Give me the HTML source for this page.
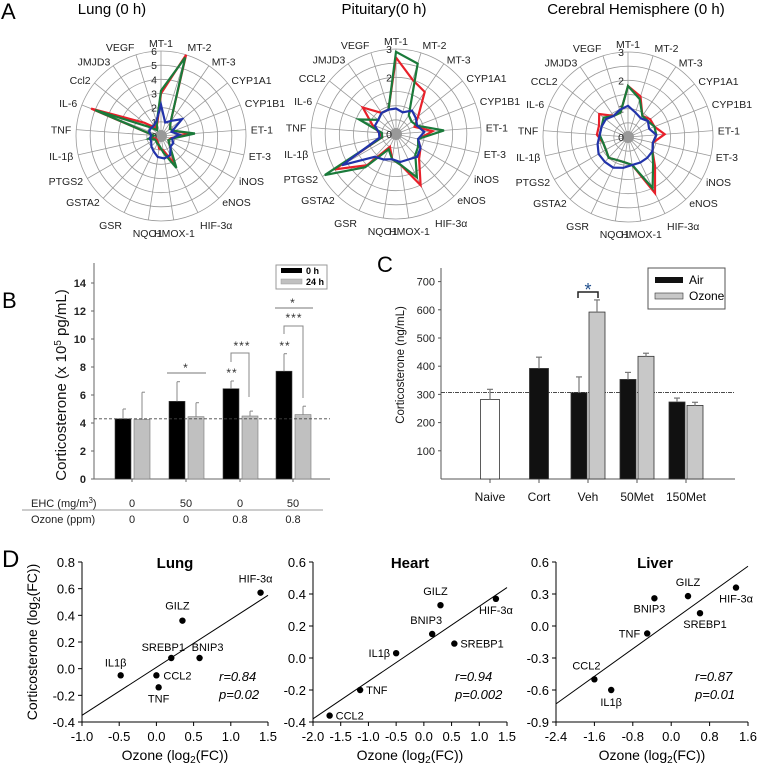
<!DOCTYPE html>
<html><head><meta charset="utf-8">
<style>
html,body{margin:0;padding:0;background:#fff;}
svg{display:block;font-family:"Liberation Sans",sans-serif;}
</style></head>
<body>
<svg id="fig" width="758" height="767" viewBox="0 0 758 767" xmlns="http://www.w3.org/2000/svg">
<text x="1" y="19" font-size="22">A</text>
<text x="2" y="308" font-size="22">B</text>
<text x="377" y="272" font-size="22">C</text>
<text x="2" y="567" font-size="24">D</text>
<g id="gA"></g><g id="gB"></g><g id="gC"></g><g id="gD"></g>
</svg>
<script>
// ---------- Panel A data ----------
const radarGenesLung = ["MT-1","MT-2","MT-3","CYP1A1","CYP1B1","ET-1","ET-3","iNOS","eNOS","HIF-3α","HMOX-1","NQO1","GSR","GSTA2","PTGS2","IL-1β","TNF","IL-6","Ccl2","JMJD3","VEGF"];
const radarGenes = ["MT-1","MT-2","MT-3","CYP1A1","CYP1B1","ET-1","ET-3","iNOS","eNOS","HIF-3α","HMOX-1","NQO1","GSR","GSTA2","PTGS2","IL-1β","TNF","IL-6","CCL2","JMJD3","VEGF"];
const lungRed   = [3.0,6.0,1.2,0.8,1.0,2.0,0.7,0.6,0.9,2.2,1.0,0.9,0.5,0.4,0.4,0.6,0.5,5.3,1.5,0.7,0.9];
const lungGreen = [3.2,5.8,1.2,0.8,1.0,2.4,0.8,0.6,0.9,2.5,1.2,0.7,0.6,0.5,0.5,0.9,0.5,5.0,1.0,0.5,1.0];
const lungBlue  = [2.2,1.0,1.3,1.9,0.8,1.3,0.8,1.0,1.0,1.5,1.6,1.5,1.2,1.0,0.8,0.8,0.7,0.9,0.9,0.9,1.1];
const pitRed   = [2.7,2.0,1.8,1.0,0.7,1.3,0.8,1.0,1.2,2.0,1.1,0.9,0.5,1.5,2.5,0.5,0.6,0.9,1.5,0.9,0.9];
const pitGreen = [2.9,2.6,0.8,0.7,0.8,1.7,0.8,0.9,1.0,1.7,1.1,0.9,0.6,1.6,2.9,0.5,0.5,1.4,0.8,0.9,0.9];
const pitBlue  = [0.9,0.8,1.0,0.9,0.8,1.0,0.8,1.0,1.1,1.0,1.0,0.9,1.0,1.1,2.2,0.6,0.6,0.8,0.8,0.9,0.9];
const cerRed   = [1.8,1.5,0.9,1.0,1.0,1.3,0.9,1.0,1.4,2.2,1.0,0.9,0.9,1.0,0.9,0.9,1.1,1.1,1.3,0.9,0.9];
const cerGreen = [1.8,1.4,0.9,0.9,1.0,1.0,0.9,1.0,1.3,2.0,1.0,0.9,0.9,1.0,0.9,0.9,1.0,1.0,1.1,0.9,0.9];
const cerBlue  = [1.1,0.9,0.8,0.9,0.8,1.0,0.9,1.0,1.0,1.0,1.0,1.1,1.2,1.2,1.2,1.1,1.0,1.0,1.0,0.9,1.0];
const lungRingTicks = ["0","1","2","3","4","5","6"];
const brainRingTicks = ["0","1","2","3"];

// ---------- Panel B data ----------
const bGroups = ["g1","g2","g3","g4"];
const bEHC = ["0","50","0","50"];
const bOzone = ["0","0","0.8","0.8"];
const b0h = [4.3,5.55,6.45,7.7];
const b0hErr = [5.0,6.95,7.0,8.95];
const b24h = [4.25,4.45,4.5,4.6];
const b24hErr = [6.2,5.45,4.85,5.2];
const bTicks = [0,2,4,6,8,10,12,14];
const bBaseline = 4.3;

// ---------- Panel C data ----------
const cCats = ["Naive","Cort","Veh","50Met","150Met"];
const cAir = [282,392,306,353,273];
const cAirErr = [318,432,362,378,287];
const cOzone = [null,null,592,435,261];
const cOzoneErr = [null,null,635,446,272];
const cTicks = [100,200,300,400,500,600,700];
const cBaseline = 307;

// ---------- Panel D data ----------
const lungGenes = ["HIF-3α","GILZ","SREBP1","BNIP3","IL1β","CCL2","TNF"];
const lungX = [1.4,0.35,0.2,0.58,-0.48,0.0,0.03];
const lungY = [0.57,0.36,0.08,0.08,-0.05,-0.05,-0.14];
const heartGenes = ["CCL2","TNF","IL1β","BNIP3","SREBP1","GILZ","HIF-3α"];
const heartX = [-1.7,-1.15,-0.5,0.15,0.55,0.3,1.3];
const heartY = [-0.36,-0.2,0.03,0.15,0.09,0.33,0.37];
const liverGenes = ["CCL2","IL1β","TNF","BNIP3","GILZ","SREBP1","HIF-3α"];
const liverX = [-1.6,-1.25,-0.5,-0.35,0.35,0.6,1.35];
const liverY = [-0.5,-0.6,-0.07,0.26,0.28,0.12,0.36];
const lungXTicks = [-1.0,-0.5,0.0,0.5,1.0,1.5];
const lungYTicks = [-0.4,-0.2,0.0,0.2,0.4,0.6,0.8];
const heartXTicks = [-2.0,-1.5,-1.0,-0.5,0.0,0.5,1.0,1.5];
const heartYTicks = [-0.4,-0.2,0.0,0.2,0.4,0.6];
const liverXTicks = [-2.4,-1.6,-0.8,0.0,0.8,1.6];
const liverYTicks = [-0.9,-0.6,-0.3,0.0,0.3,0.6];
const lungFit = [[-1.0,-0.35],[1.5,0.55]];
const heartFit = [[-2.0,-0.38],[1.5,0.44]];
const liverFit = [[-2.4,-0.73],[1.6,0.56]];

const NS="http://www.w3.org/2000/svg";
function mk(parent, tag, attrs, txt){
  const e=document.createElementNS(NS,tag);
  for(const k in attrs) e.setAttribute(k,attrs[k]);
  if(txt!==undefined) e.textContent=txt;
  parent.appendChild(e); return e;
}

// ===== Panel A radars =====
const gA=document.getElementById('gA');
function radar(cx,cy,R,maxV,labels,ticks,series,title,tx,name){
  const g=mk(gA,'g',{});
  
  
  const t=mk(g,'text',{x:tx,y:14,'font-size':15,'text-anchor':'middle'},title);
  
  
  const n=labels.length;
  for(let k=1;k<=6;k++){
    const c=mk(g,'circle',{cx:cx,cy:cy,r:R*k/6,fill:'none',stroke:'#999','stroke-width':0.8});
    
    
  }
  for(let i=0;i<n;i++){
    const a=2*Math.PI*i/n, s=Math.sin(a), co=-Math.cos(a);
    const sp=mk(g,'line',{x1:cx,y1:cy,x2:cx+R*s,y2:cy+R*co,stroke:'#999','stroke-width':0.8});
    
    
    const lr=R+5;
    const anchor = s>0.25?'start':(s<-0.25?'end':'middle');
    const ly = cy+lr*co + 4 + (co<-0.9?-3:(co>0.9?8:0));
    const lb=mk(g,'text',{x:cx+lr*s,y:ly,'font-size':10.5,'text-anchor':anchor,fill:'#222'},labels[i]);
    
    
  }
  const cd=mk(g,'circle',{cx:cx,cy:cy,r:6,fill:'#999'});
  
  
  ticks.forEach((tk)=>{
    const v=+tk;
    const tt=mk(g,'text',{x:cx-4,y:cy-R*v/maxV+4,'font-size':10.5,'text-anchor':'end',fill:'#222'},tk);
    
    
  });
  series.forEach(([vals,col])=>{
    const pts=vals.map((v,i)=>{const a=2*Math.PI*i/n;const r=R*v/maxV;return (cx+r*Math.sin(a)).toFixed(1)+','+(cy-r*Math.cos(a)).toFixed(1);}).join(' ');
    const p=mk(g,'polygon',{points:pts,fill:'none',stroke:col,'stroke-width':2.2,'stroke-linejoin':'miter'});
    
    
  });
}
radar(161,136,85,6,radarGenesLung,lungRingTicks,[[lungRed,'#e8202a'],[lungGreen,'#1a7a3a'],[lungBlue,'#2233aa']],'Lung (0 h)',112,'radar-lung');
radar(396,134,85,3,radarGenes,brainRingTicks,[[pitRed,'#e8202a'],[pitGreen,'#1a7a3a'],[pitBlue,'#2233aa']],'Pituitary(0 h)',384,'radar-pituitary');
radar(628,137,85,3,radarGenes,brainRingTicks,[[cerRed,'#e8202a'],[cerGreen,'#1a7a3a'],[cerBlue,'#2233aa']],'Cerebral Hemisphere (0 h)',636,'radar-cerebral');

// ===== Panel B =====
const gB=document.getElementById('gB');
const bx0=94,bx1=330,by0=479,bpx=14;
const bY=v=>by0-v*bpx;
const bCenters=[132,186,240,293];
mk(gB,'line',{x1:bx0,y1:263,x2:bx0,y2:by0,stroke:'#666','stroke-width':1});
mk(gB,'line',{x1:bx0,y1:by0,x2:bx1,y2:by0,stroke:'#666','stroke-width':1});
bTicks.forEach(t=>{
  mk(gB,'line',{x1:bx0-3,y1:bY(t),x2:bx0,y2:bY(t),stroke:'#666'});
  const e=mk(gB,'text',{x:bx0-8,y:bY(t)+4,'font-size':11,'text-anchor':'end','font-weight':'bold',fill:'#222'},t);
  
  
});
bGroups.forEach((gname,i)=>{
  const c=bCenters[i];
  mk(gB,'line',{x1:c,y1:by0,x2:c,y2:by0+3,stroke:'#666'});
  const b1=mk(gB,'rect',{x:c-17,y:bY(b0h[i]),width:16,height:by0-bY(b0h[i]),fill:'#000',stroke:'#444','stroke-width':0.6});
  
  
  mk(gB,'line',{x1:c-9,y1:bY(b0h[i]),x2:c-9,y2:bY(b0hErr[i]),stroke:'#888','stroke-width':1});
  mk(gB,'line',{x1:c-9,y1:bY(b0hErr[i]),x2:c-6,y2:bY(b0hErr[i]),stroke:'#888','stroke-width':1});
  const b2=mk(gB,'rect',{x:c+2,y:bY(b24h[i]),width:16,height:by0-bY(b24h[i]),fill:'#c0c0c0',stroke:'#777','stroke-width':0.6});
  
  
  mk(gB,'line',{x1:c+10,y1:bY(b24h[i]),x2:c+10,y2:bY(b24hErr[i]),stroke:'#888','stroke-width':1});
  mk(gB,'line',{x1:c+10,y1:bY(b24hErr[i]),x2:c+13,y2:bY(b24hErr[i]),stroke:'#888','stroke-width':1});
  const e1=mk(gB,'text',{x:c,y:507,'font-size':11,'text-anchor':'middle',fill:'#222'},bEHC[i]);
  
  
  const e2=mk(gB,'text',{x:c,y:523,'font-size':11,'text-anchor':'middle',fill:'#222'},bOzone[i]);
  
  
});
mk(gB,'line',{x1:bx0,y1:bY(bBaseline),x2:bx1,y2:bY(bBaseline),stroke:'#444','stroke-dasharray':'3,2','stroke-width':0.8});
mk(gB,'line',{x1:22,y1:510,x2:323,y2:510,stroke:'#999','stroke-width':1});
let t;
t=mk(gB,'text',{x:31,y:507,'font-size':11,fill:'#222'});t.innerHTML='EHC (mg/m<tspan dy="-4" font-size="8">3</tspan><tspan dy="4">)</tspan>';


t=mk(gB,'text',{x:31,y:523,'font-size':11,fill:'#222'},'Ozone (ppm)');


t=mk(gB,'text',{x:0,y:0,'font-size':15,'text-anchor':'middle',transform:'translate(66,385) rotate(-90)',fill:'#111'});
t.innerHTML='Corticosterone (x 10<tspan dy="-5" font-size="10">5</tspan><tspan dy="5"> pg/mL)</tspan>';


const sig=(x,y,s)=>{const e=mk(gB,'text',{x:x,y:y,'font-size':12,'text-anchor':'middle',fill:'#333','letter-spacing':'1'},s);};
mk(gB,'line',{x1:167,y1:373,x2:206,y2:373,stroke:'#777'});sig(186,372,'*');
sig(232,377,'**');
mk(gB,'polyline',{points:'231,362 231,353 249,353 249,397',fill:'none',stroke:'#888'});sig(242,350,'***');
sig(285,350,'**');
mk(gB,'polyline',{points:'284,334 284,326 303,326 303,398',fill:'none',stroke:'#888'});sig(294,322,'***');
mk(gB,'line',{x1:275,y1:308,x2:313,y2:308,stroke:'#777'});sig(293,307,'*');
const lgB=mk(gB,'g',{});


mk(lgB,'rect',{x:276,y:265,width:51,height:24,fill:'#fff',stroke:'#999'});
mk(lgB,'rect',{x:281,y:268,width:21,height:5,fill:'#000'});
mk(lgB,'rect',{x:281,y:279,width:21,height:5,fill:'#c0c0c0',stroke:'#999','stroke-width':0.5});
mk(lgB,'text',{x:306,y:274,'font-size':9,'font-weight':'bold'},'0 h');
mk(lgB,'text',{x:306,y:285,'font-size':9,'font-weight':'bold'},'24 h');

// ===== Panel C =====
const gC=document.getElementById('gC');
const cx0=441,cx1=735,cy0=479,cpx=0.282;
const cY=v=>cy0-v*cpx;
const cCenters=[490,539,588,637,686];
mk(gC,'line',{x1:cx0,y1:268,x2:cx0,y2:cy0,stroke:'#555'});
mk(gC,'line',{x1:cx0,y1:cy0,x2:cx1,y2:cy0,stroke:'#555'});
cTicks.forEach(v=>{
  mk(gC,'line',{x1:cx0-3,y1:cY(v),x2:cx0,y2:cY(v),stroke:'#555'});
  const e=mk(gC,'text',{x:cx0-6,y:cY(v)+4,'font-size':11,'text-anchor':'end',fill:'#222'},v);
  
  
});
mk(gC,'line',{x1:cx0,y1:cY(cBaseline),x2:cx1,y2:cY(cBaseline),stroke:'#333','stroke-dasharray':'4,1,1,1','stroke-width':0.8});
cCats.forEach((cat,i)=>{
  const c=cCenters[i];
  mk(gC,'line',{x1:c,y1:cy0,x2:c,y2:cy0+4,stroke:'#555'});
  const lab=mk(gC,'text',{x:c,y:501,'font-size':12,'text-anchor':'middle',fill:'#111'},cat);
  
  
  const single = cOzone[i]===null;
  const w=single?19:16;
  const ax= single? c-9.5 : c-17;
  const fillA = i===0?'#fff':'#111';
  const ba=mk(gC,'rect',{x:ax,y:cY(cAir[i]),width:w,height:cy0-cY(cAir[i]),fill:fillA,stroke:'#333','stroke-width':0.8});
  
  
  const ex=ax+w/2;
  mk(gC,'line',{x1:ex,y1:cY(cAir[i]),x2:ex,y2:cY(cAirErr[i]),stroke:'#777','stroke-width':1.2});
  mk(gC,'line',{x1:ex-3,y1:cY(cAirErr[i]),x2:ex+3,y2:cY(cAirErr[i]),stroke:'#777','stroke-width':1.2});
  if(!single){
    const bo=mk(gC,'rect',{x:c+1,y:cY(cOzone[i]),width:16,height:cy0-cY(cOzone[i]),fill:'#c8c8c8',stroke:'#333','stroke-width':0.8});
    
    
    mk(gC,'line',{x1:c+9,y1:cY(cOzone[i]),x2:c+9,y2:cY(cOzoneErr[i]),stroke:'#777','stroke-width':1.2});
    mk(gC,'line',{x1:c+6,y1:cY(cOzoneErr[i]),x2:c+12,y2:cY(cOzoneErr[i]),stroke:'#777','stroke-width':1.2});
  }
});
mk(gC,'polyline',{points:'578,298 578,292 598,292 598,298',fill:'none',stroke:'#222','stroke-width':1.5});
t=mk(gC,'text',{x:588,y:296,'font-size':18,'text-anchor':'middle',fill:'#1f4e8c'},'*');


t=mk(gC,'text',{x:0,y:0,'font-size':11.5,'text-anchor':'middle',transform:'translate(404,365) rotate(-90)',fill:'#111'},'Corticosterone (ng/mL)');


const lgC=mk(gC,'g',{});


mk(lgC,'rect',{x:648,y:268,width:77,height:41,fill:'#fff',stroke:'#555'});
mk(lgC,'rect',{x:655,y:277,width:28,height:6,fill:'#111'});
mk(lgC,'rect',{x:655,y:293,width:28,height:6,fill:'#c8c8c8',stroke:'#333','stroke-width':0.6});
mk(lgC,'text',{x:689,y:284,'font-size':12},'Air');
mk(lgC,'text',{x:689,y:300,'font-size':12},'Ozone');

// ===== Panel D =====
const gD=document.getElementById('gD');
function scatter(opt){
  const g=mk(gD,'g',{});
  
  
  const {x0,x1,y0,y1,xmin,xmax,ymin,ymax}=opt;
  const X=v=>x0+(v-xmin)/(xmax-xmin)*(x1-x0);
  const Y=v=>y0-(v-ymin)/(ymax-ymin)*(y0-y1);
  mk(g,'line',{x1:x0,y1:y1,x2:x0,y2:y0,stroke:'#000'});
  mk(g,'line',{x1:x0,y1:y0,x2:x1,y2:y0,stroke:'#000'});
  opt.xt.forEach(v=>{
    mk(g,'line',{x1:X(v),y1:y0,x2:X(v),y2:y0+4,stroke:'#000'});
    const e=mk(g,'text',{x:X(v),y:y0+19,'font-size':13,'text-anchor':'middle'},v.toFixed(1));
    
    
  });
  opt.yt.forEach(v=>{
    mk(g,'line',{x1:x0-4,y1:Y(v),x2:x0,y2:Y(v),stroke:'#000'});
    const e=mk(g,'text',{x:x0-7,y:Y(v)+5,'font-size':13,'text-anchor':'end'},v.toFixed(1));
    
    
  });
  const f=opt.fit;
  const fl=mk(g,'line',{x1:X(f[0][0]),y1:Y(f[0][1]),x2:X(f[1][0]),y2:Y(f[1][1]),stroke:'#000','stroke-width':1});
  
  
  opt.genes.forEach((gn,i)=>{
    const px=X(opt.xs[i]),py=Y(opt.ys[i]);
    const pt=mk(g,'circle',{cx:px,cy:py,r:3.2,fill:'#000'});
    
    
    const o=opt.off[i];
    const lb=mk(g,'text',{x:px+o[0],y:py+o[1],'font-size':11,'text-anchor':o[2]},gn);
    
    
  });
  const ti=mk(g,'text',{x:opt.tx,y:568,'font-size':15,'font-weight':'bold','text-anchor':'middle'},opt.title);
  
  
  const r=mk(g,'text',{x:opt.rx,y:681,'font-size':13,'font-style':'italic'},opt.r);
  
  
  const p=mk(g,'text',{x:opt.rx,y:699,'font-size':13,'font-style':'italic'},opt.p);
  
  
  const xt=mk(g,'text',{x:(x0+x1)/2,y:760,'font-size':14,'text-anchor':'middle'});
  xt.innerHTML='Ozone (log<tspan dy="3" font-size="10">2</tspan><tspan dy="-3">(FC))</tspan>';
  
  
}
scatter({name:'scatter-lung',x0:82,x1:268,y0:722,y1:562,xmin:-1,xmax:1.5,ymin:-0.4,ymax:0.8,xt:lungXTicks,yt:lungYTicks,fit:lungFit,genes:lungGenes,xs:lungX,ys:lungY,
  off:[[-5,-10,'middle'],[-5,-11,'middle'],[-8,-7,'middle'],[8,-7,'middle'],[-5,-9,'middle'],[7,4,'start'],[0,15,'middle']],title:'Lung',tx:175,rx:219,r:'r=0.84',p:'p=0.02'});
scatter({name:'scatter-heart',x0:313,x1:507,y0:722,y1:562,xmin:-2,xmax:1.5,ymin:-0.4,ymax:0.6,xt:heartXTicks,yt:heartYTicks,fit:heartFit,genes:heartGenes,xs:heartX,ys:heartY,
  off:[[6,4,'start'],[6,4,'start'],[-6,4,'end'],[-6,-10,'middle'],[6,4,'start'],[-5,-10,'middle'],[0,15,'middle']],title:'Heart',tx:410,rx:455,r:'r=0.94',p:'p=0.002'});
scatter({name:'scatter-liver',x0:556,x1:748,y0:722,y1:562,xmin:-2.4,xmax:1.6,ymin:-0.9,ymax:0.6,xt:liverXTicks,yt:liverYTicks,fit:liverFit,genes:liverGenes,xs:liverX,ys:liverY,
  off:[[-8,-10,'middle'],[0,16,'middle'],[-7,4,'end'],[-5,14,'middle'],[0,-10,'middle'],[5,15,'middle'],[17,15,'end']],title:'Liver',tx:655,rx:695,r:'r=0.87',p:'p=0.01'});
t=mk(gD,'text',{x:0,y:0,'font-size':14,'text-anchor':'middle',transform:'translate(37,642) rotate(-90)'});
t.innerHTML='Corticosterone (log<tspan dy="3" font-size="10">2</tspan><tspan dy="-3">(FC))</tspan>';


</script>
</body></html>
